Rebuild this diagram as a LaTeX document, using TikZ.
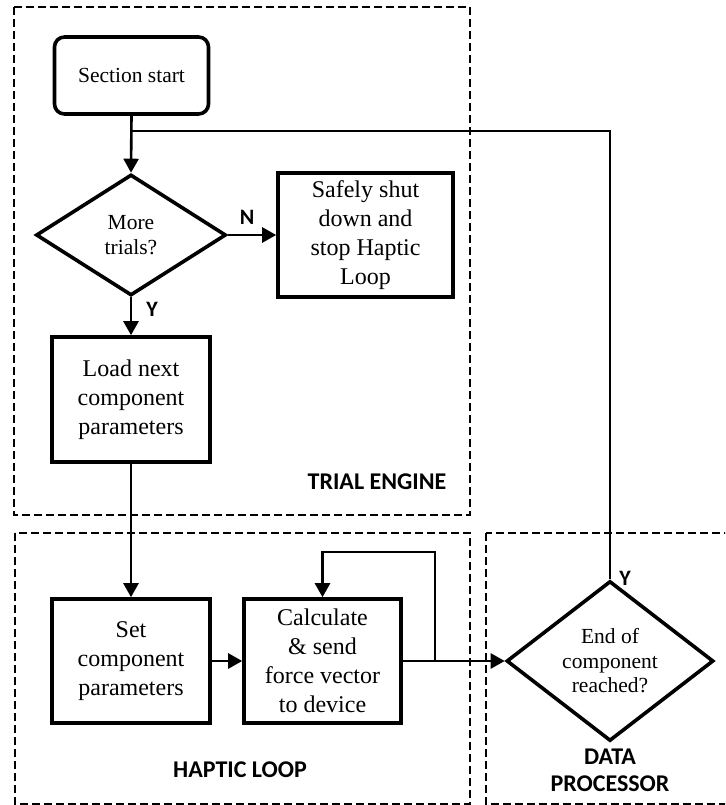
\documentclass[tikz,border=0pt]{standalone}
\usepackage{fontspec}
\setmainfont{Liberation Serif}
\newfontfamily\labelfont{Carlito}
\usetikzlibrary{arrows.meta,shapes.geometric}
\begin{document}
\begin{tikzpicture}[x=1pt,y=-1pt,
  proc/.style={draw, line width=3.6pt, align=center, inner sep=0pt, font=\fontsize{24}{29}\selectfont},
  dec/.style={draw, diamond, line width=3.6pt, align=center, inner sep=0pt, font=\fontsize{21.5}{24.5}\selectfont},
  conn/.style={line width=2.6pt},
  arr/.style={conn, -{Triangle[length=14pt,width=15pt]}},
  region/.style={draw, line width=1.3pt, dash pattern=on 8pt off 4pt},
  lab/.style={font=\labelfont\bfseries\fontsize{24}{27}\selectfont, align=center},
  yn/.style={font=\labelfont\bfseries\fontsize{22}{24}\selectfont}]
\clip (0,0) rectangle (725,805);
\fill[white] (0,0) rectangle (725,805);
% regions
\draw[region] (14,7) rectangle (470,515);
\draw[region] (15,533) rectangle (470,804);
\draw[region] (486,533) rectangle (740,804);
% nodes
\node[proc, rounded corners=10pt, minimum width=154pt, minimum height=77pt,
      font=\fontsize{21.5}{25}\selectfont] (start) at (131.5,75.5) {Section start};
\node[dec, minimum width=190pt, minimum height=121pt] (more) at (131,235) {More\\trials?};
\node[proc, minimum width=175pt, minimum height=124pt] (safe) at (365.5,235)
  {Safely shut\\down and\\stop Haptic\\Loop};
\node[proc, minimum width=158pt, minimum height=125pt] (load) at (131,399.5)
  {Load next\\component\\parameters};
\node[proc, minimum width=158pt, minimum height=124pt] (set) at (131,661)
  {Set\\component\\parameters};
\node[proc, minimum width=157pt, minimum height=124pt] (calc) at (322.5,661)
  {Calculate\\\& send\\force vector\\to device};
\node[dec, minimum width=207pt, minimum height=123pt] (end) at (610,661)
  {End of\\component\\reached?};
% labels
\node[lab] (lte) at (377,482) {TRIAL ENGINE};
\node[lab] (lhl) at (240,770) {HAPTIC LOOP};
\node[lab] (ldp) at (610,770) {DATA\\PROCESSOR};
\node[yn] (ln) at (247,217) {N};
\node[yn] (ly1) at (152,309) {Y};
\node[yn] (ly2) at (625,578) {Y};
% connectors
\coordinate (j) at (131,131);
\coordinate (jr) at (610,131);
\coordinate (fb) at (435,661);
\coordinate (fbtop) at (435,552);
\draw[arr] (start.south) -- (more.north);
\draw[arr] (more.east) -- (safe.west);
\draw[arr] (more.south) -- (load.north);
\draw[arr] (load.south) -- (set.north);
\draw[arr] (set.east) -- (calc.west);
\draw[arr] (calc.east) -- (end.west);
\draw[arr] (fb) -- (fbtop) -| (calc.north);
\draw[conn] (end.north) -- (jr) -- (j);
\end{tikzpicture}
\end{document}
